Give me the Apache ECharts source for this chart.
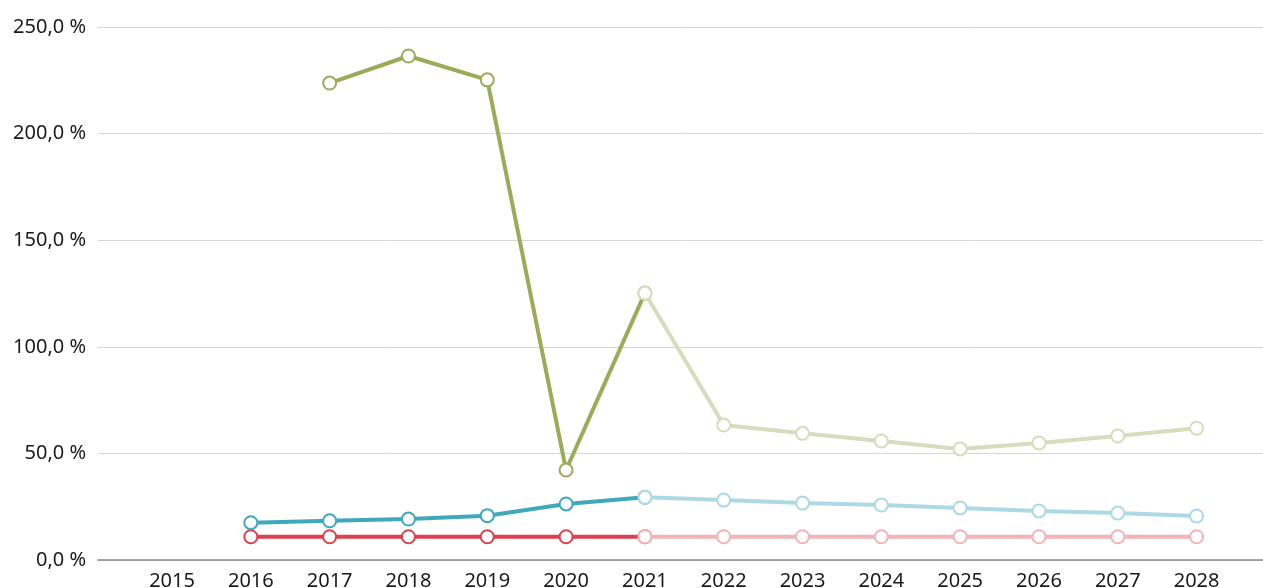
<!DOCTYPE html>
<html>
<head>
<meta charset="utf-8">
<script src="https://cdn.jsdelivr.net/npm/echarts@6/dist/echarts.min.js"></script>
<style>
	html, body { margin: 0; padding: 0; background: #fff; }
	#chart { width: 1263px; height: 588px; }
</style>
</head>
<body>
<div id="chart"></div>
<script>
// years on the x axis
var years = ['2015', '2016', '2017', '2018', '2019', '2020', '2021', '2022', '2023', '2024', '2025', '2026', '2027', '2028'];

// actual values (up to 2021) and forecast (from 2021), null = no value
var greenActual = [null, null, 223.7, 236.4, 225.2, 42.2, 125.2, null, null, null, null, null, null, null];
var greenForecast = [null, null, null, null, null, null, 125.2, 63.3, 59.4, 55.8, 52.1, 54.9, 58.2, 61.8];
var blueActual = [null, 17.5, 18.4, 19.2, 20.8, 26.3, 29.4, null, null, null, null, null, null, null];
var blueForecast = [null, null, null, null, null, null, 29.4, 28.1, 26.7, 25.8, 24.4, 23.0, 22.0, 20.6];
var redActual = [null, 10.9, 10.9, 10.9, 10.9, 10.9, 10.9, null, null, null, null, null, null, null];
var redForecast = [null, null, null, null, null, null, 10.9, 10.9, 10.9, 10.9, 10.9, 10.9, 10.9, 10.9];

var yTicks = [0, 50, 100, 150, 200, 250];

var font = '"Noto Sans", sans-serif';

function lineSeries(data, color, z) {
	return {
		type: 'line',
		xAxisIndex: 1,
		yAxisIndex: 1,
		data: data,
		z: z,
		symbol: 'circle',
		symbolSize: 13,
		showSymbol: true,
		connectNulls: false,
		animation: false,
		lineStyle: { color: color, width: 4 },
		itemStyle: { color: '#fff', borderColor: color, borderWidth: 2 }
	};
}

var chart = echarts.init(document.getElementById('chart'));
chart.setOption({
	animation: false,
	grid: [
		{ left: 98, right: 0, top: 27, bottom: 28, outerBoundsMode: 'none', containLabel: false },
		{ left: 132.6, right: 27, top: 27, bottom: 28, outerBoundsMode: 'none', containLabel: false }
	],
	xAxis: [
		{
			gridIndex: 0, type: 'value', min: 0, max: 1,
			axisLine: { show: true, lineStyle: { color: '#8a8a8a', width: 1.5 } },
			axisTick: { show: false }, axisLabel: { show: false }, splitLine: { show: false }
		},
		{
			gridIndex: 1, type: 'category', data: years, boundaryGap: true,
			axisLine: { show: false }, axisTick: { show: false },
			axisLabel: { color: '#1a1a1a', fontFamily: font, fontSize: 20, margin: 11 }
		}
	],
	yAxis: [
		{
			gridIndex: 0, type: 'value', min: yTicks[0], max: yTicks[yTicks.length - 1], interval: 50,
			axisLine: { show: false }, axisTick: { show: false },
			axisLabel: {
				color: '#1a1a1a', fontFamily: font, fontSize: 20, margin: 12,
				formatter: function(v) { return v.toFixed(1).replace('.', ',') + ' %'; }
			},
			splitLine: { lineStyle: { color: '#d6d6d6', width: 1 } }
		},
		{
			gridIndex: 1, type: 'value', min: 0, max: 250, interval: 50,
			show: false
		}
	],
	series: [
		lineSeries(redActual, '#d9434f', 3),
		lineSeries(blueActual, '#3fa8bd', 3),
		lineSeries(greenActual, '#9aab59', 3),
		lineSeries(redForecast, '#f1b4b7', 4),
		lineSeries(blueForecast, '#acdae4', 4),
		lineSeries(greenForecast, '#d6dcbc', 4)
	]
});
</script>
</body>
</html>
